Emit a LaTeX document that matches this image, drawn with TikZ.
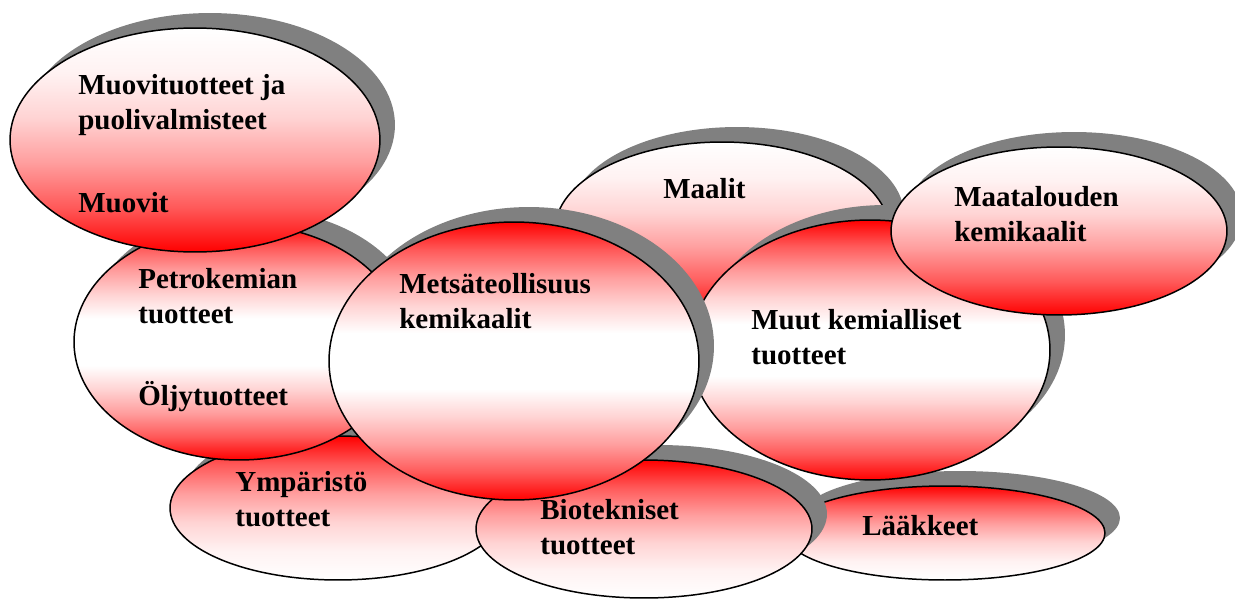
\documentclass[tikz,border=0pt]{standalone}
\usepackage{fontspec}
\setmainfont{Liberation Serif}
\usetikzlibrary{shapes.geometric}
\usetikzlibrary{shadows}

\colorlet{redA}{red!65!white}
\colorlet{redB}{red!38!white}
\colorlet{redC}{red!17!white}
\colorlet{redD}{red!5!white}
% the ellipse box takes the 25bp--75bp band
\pgfdeclareverticalshading{redtop}{100bp}{color(0bp)=(white); color(25bp)=(white);
  color(35bp)=(redD); color(45bp)=(redC); color(55bp)=(redB); color(65bp)=(redA);
  color(75bp)=(red); color(100bp)=(red)}
\pgfdeclareverticalshading{redbottom}{100bp}{color(0bp)=(red); color(25bp)=(red);
  color(35bp)=(redA); color(45bp)=(redB); color(55bp)=(redC); color(65bp)=(redD);
  color(75bp)=(white); color(100bp)=(white)}
\pgfdeclareverticalshading{redends}{100bp}{color(0bp)=(red); color(25bp)=(red);
  color(30bp)=(redA); color(35bp)=(redB); color(40bp)=(redC); color(45bp)=(white);
  color(55bp)=(white); color(60bp)=(redC); color(65bp)=(redB); color(70bp)=(redA);
  color(75bp)=(red); color(100bp)=(red)}

\begin{document}
\begin{tikzpicture}
  [x=0.02cm, y=-0.02cm,
   blob/.style = {ellipse, draw, line width=0.85pt, inner sep=0pt, shade,
     drop shadow={shadow xshift=0.3cm, shadow yshift=0.3cm, fill=black!50, opacity=1}},
   redwhite/.style = {blob, shading=redtop},
   whitered/.style = {blob, shading=redbottom},
   redmid/.style = {blob, shading=redends},
   txt/.style = {anchor=base west, align=left, inner sep=0pt,
     font=\bfseries\fontsize{16.5}{19.4}\selectfont}]
  \useasboundingbox (0, 0) rectangle (1235, 599);

  % base anchor of two-line texts sits on the last line
  \node [redwhite, minimum width=6.72cm, minimum height=2.88cm] (ymp) at (338, 508) {};
  \node [txt] (ympt) at (235, 526) {Ympäristö\\tuotteet};

  \node [redwhite, minimum width=6.4cm, minimum height=1.88cm] (laak) at (945, 533) {};
  \node [txt] (laakt) at (862, 535) {Lääkkeet};

  \node [redwhite, minimum width=6.72cm, minimum height=2.76cm] (bio) at (644, 529) {};
  \node [txt] (biot) at (540, 554) {Biotekniset\\tuotteet};

  \node [redmid, minimum width=6.6cm, minimum height=4.72cm] (petro) at (239, 342) {};
  \node [txt] (petrot) at (138, 323) {Petrokemian\\tuotteet};
  \node [txt] (oljyt) at (138, 405) {Öljytuotteet};

  \node [whitered, minimum width=7.4cm, minimum height=4.48cm] (muovi) at (195, 140) {};
  \node [txt] (muovit) at (78, 129) {Muovituotteet ja\\puolivalmisteet};
  \node [txt] (muovit2) at (78, 212) {Muovit};

  \node [whitered, minimum width=6.68cm, minimum height=3.52cm] (maali) at (722, 230) {};
  \node [txt] (maalit) at (663, 198) {Maalit};

  \node [redmid, minimum width=7.2cm, minimum height=5.2cm] (muut) at (870, 350) {};
  \node [txt] (muutt) at (751, 364) {Muut kemialliset\\tuotteet};

  \node [whitered, minimum width=6.72cm, minimum height=3.36cm] (maat) at (1059, 231) {};
  \node [txt] (maatt) at (954, 241) {Maatalouden\\kemikaalit};

  \node [redmid, minimum width=7.4cm, minimum height=5.56cm] (metsa) at (514, 361) {};
  \node [txt] (metsat) at (399, 328) {Metsäteollisuus\\kemikaalit};
\end{tikzpicture}
\end{document}
